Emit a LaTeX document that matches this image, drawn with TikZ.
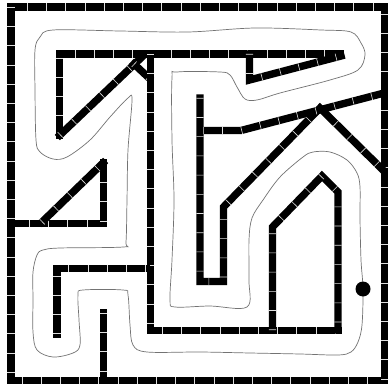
\documentclass[tikz,border=0pt]{standalone}
\begin{document}
\begin{tikzpicture}[x=1pt,y=-1pt,
  wall/.style={line width=7.4pt, black, line cap=rect, line join=miter},
  seams/.style={line width=7.4pt, white!75!gray, dash pattern=on 0.6pt off 18.6pt},
  track/.style={line width=0.7pt, black!55}]
\useasboundingbox (0,0) rectangle (388,385);
\fill[white] (0,0) rectangle (388,385);
% outer border
\coordinate (b1) at (11,7);
\coordinate (b2) at (385,380.5);
\draw[wall] (b1) rectangle (b2);
\draw[seams] (b1) rectangle (b2);
% walls
\foreach \p in {
  {(59.5,135) -- (59.5,54) -- (340,54)},
  {(60,135) -- (143,56)},
  {(134,64) -- (149,78)},
  {(150.5,54) -- (150.5,330.5) -- (338,330.5)},
  {(249.5,54) -- (249.5,80) -- (341,56)},
  {(103.5,163) -- (103.5,223.5) -- (14,223.5)},
  {(42,222) -- (103,163)},
  {(57,334) -- (57,268.5) -- (146,268.5)},
  {(103.5,313) -- (103.5,378)},
  {(200,98) -- (200,281.5) -- (223.5,281.5) -- (223.5,207) -- (320,108) -- (386,173)},
  {(203,130.5) -- (241,130.5) -- (388,92)},
  {(272.5,330) -- (272.5,227) -- (322,176) -- (338,192) -- (338,330)}
}{
  \draw[wall] \p;
  \draw[seams] \p;
}
% trajectory
\draw[track] plot[smooth cycle, tension=0.55] coordinates {
(53,30) (120,31) (188,32) (255,28) (321,30) (351,32) (361,43) (365,55) (358,70)
(330,80) (280,93) (257,100) (245,99) (237,87) (230,75) (220,72) (177,72) (172,78)
(172,140) (174,200) (172,260) (170,300) (175,307) (210,306) (247,307) (249,280)
(249,240) (252,218) (263,200) (280,177) (303,157) (313,152) (330,152) (347,160)
(357,173) (360,187) (360,218) (361,260) (363,289) (362,325) (358,342) (351,352)
(338,355) (300,354) (250,353) (200,352) (147,352) (133,345) (130,325) (128,295)
(123,290) (83,290) (78,295) (79,320) (80,345) (73,353) (53,357) (37,350) (33,332)
(33,300) (33,272) (37,255) (43,250) (60,248) (123,247) (126,242) (127,200)
(128,150) (132,100) (128,98) (110,117) (90,140) (67,157) (53,159) (40,152)
(36,140) (35,90) (35,50) (40,37)};
% robot
\node[circle, fill=black, inner sep=0pt, minimum size=15pt] (robot) at (363,289) {};
\end{tikzpicture}
\end{document}
